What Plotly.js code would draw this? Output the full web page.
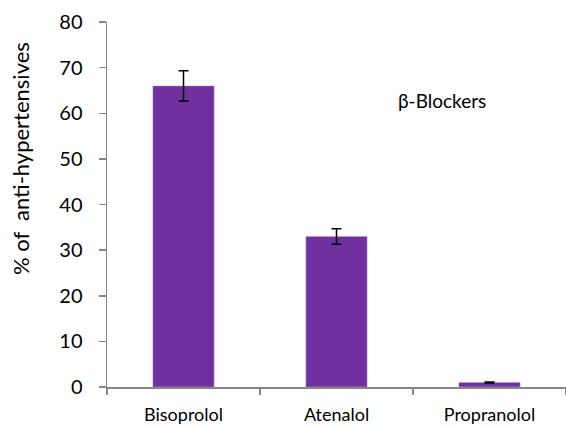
<!DOCTYPE html>
<html>
<head>
<meta charset="utf-8">
<script src="https://cdn.plot.ly/plotly-3.0.1.min.js"></script>
<style>html,body{margin:0;padding:0;background:#fff;}#chart{width:566px;height:426px;}</style>
</head>
<body>
<div id="chart"></div>
<script>
const categories = ["Bisoprolol", "Atenalol", "Propranolol"];
const values = [66, 33, 1];
const errors = [3.3, 1.7, 0.1];
const yTickVals = [0, 10, 20, 30, 40, 50, 60, 70, 80];

const font = {family: "Lato, Open Sans, sans-serif", color: "#000"};

const trace = {
  type: "bar",
  x: categories,
  y: values,
  width: 0.4,
  marker: {color: "#7030A0", line: {color: "#B9A0D0", width: 0.5}},
  error_y: {type: "data", array: errors, visible: true, color: "#000", thickness: 1.5, width: 5}
};

const layout = {
  width: 566, height: 426,
  margin: {l: 107, r: 0, t: 22, b: 39},
  paper_bgcolor: "#fff", plot_bgcolor: "#fff",
  showlegend: false,
  xaxis: {
    range: [-0.5, 2.5],
    showline: true, linecolor: "#868686", linewidth: 1.5,
    ticks: "outside", tickson: "boundaries", ticklen: 6, tickcolor: "#868686", tickwidth: 1.5,
    ticklabelstandoff: 11,
    tickfont: Object.assign({size: 18}, font),
    showgrid: false, zeroline: false
  },
  yaxis: {
    range: [0, 80],
    tickvals: yTickVals,
    showline: true, linecolor: "#868686", linewidth: 1.5,
    ticks: "outside", ticklen: 7, tickcolor: "#868686", tickwidth: 1.5,
    ticklabelstandoff: 12,
    tickfont: Object.assign({size: 20}, font),
    showgrid: false, zeroline: false
  },
  annotations: [
    {text: "% of  anti-hypertensives", xref: "paper", yref: "paper", x: -0.187, y: 0.625,
     xanchor: "center", yanchor: "middle", textangle: -90, showarrow: false,
     font: Object.assign({size: 22}, font)},
    {text: "β-Blockers", xref: "x", yref: "y", x: 1.39, y: 62.8, xanchor: "left", yanchor: "middle",
     showarrow: false, font: Object.assign({size: 19}, font)}
  ]
};

Plotly.newPlot("chart", [trace], layout, {displayModeBar: false, staticPlot: true});
</script>
</body>
</html>
